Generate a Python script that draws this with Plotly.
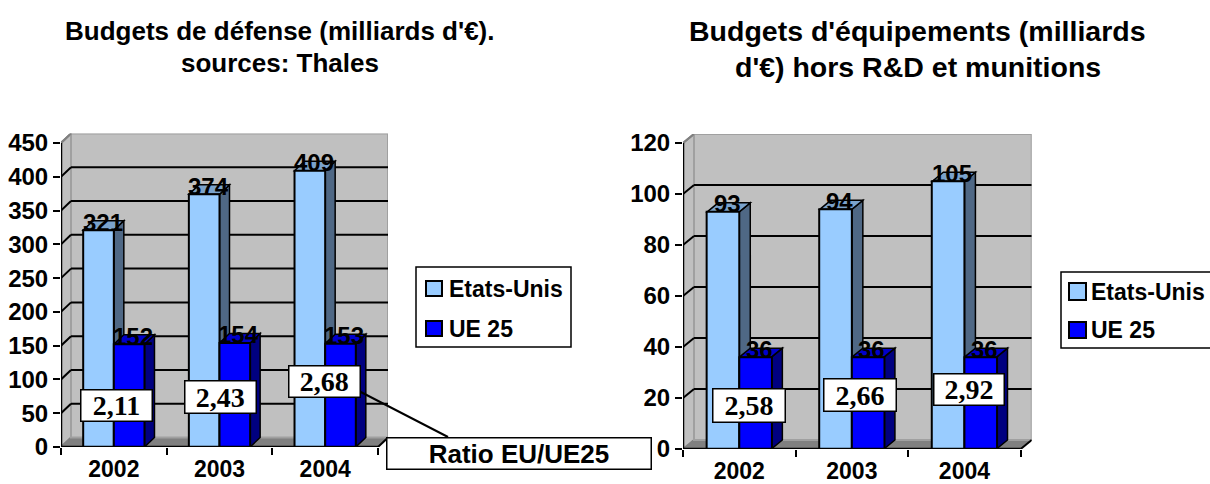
import plotly.graph_objects as go

years = ["2002", "2003", "2004"]
series_names = ["Etats-Unis", "UE 25"]
left_us = [321, 374, 409]
left_ue = [152, 154, 153]
left_ratio = ["2,11", "2,43", "2,68"]
right_us = [93, 94, 105]
right_ue = [36, 36, 36]
right_ratio = ["2,58", "2,66", "2,92"]
left_ticks = [0, 50, 100, 150, 200, 250, 300, 350, 400, 450]
right_ticks = [0, 20, 40, 60, 80, 100, 120]
left_title = ["Budgets de défense (milliards d'€).", "sources: Thales"]
right_title = ["Budgets d'équipements (milliards", "d'€) hors R&D et munitions"]
ratio_label = "Ratio EU/UE25"

W, H = 1210, 484
SANS = "Liberation Sans"
SERIF = "Liberation Serif"
LIGHT, LIGHT_SIDE, LIGHT_TOP = "#99CCFF", "#4F6885", "#7BA3CC"
BLUE, BLUE_SIDE, BLUE_TOP = "#0000FF", "#000080", "#0000CC"
WALL, FLOOR = "#C0C0C0", "#808080"


def px(x):
    return x / W


def py(y):
    return 1 - y / H


fig = go.Figure()
shapes, annotations = [], []


def poly(pts, fill, line="black", width=1.5, xref="x", yref="y", layer="below"):
    d = "M" + "L".join(f"{a},{b}" for a, b in pts) + "Z"
    shapes.append(dict(type="path", path=d, xref=xref, yref=yref, fillcolor=fill,
                       line=dict(color=line, width=width), layer=layer))


def seg(x0, y0, x1, y1, xref, yref, color="black", width=2, layer="below"):
    shapes.append(dict(type="line", x0=x0, y0=y0, x1=x1, y1=y1, xref=xref, yref=yref,
                       line=dict(color=color, width=width), layer=layer))


def panel(sfx, us, ue, ticks, ymax, x_px, y_px, depth_px, gap, lab_size):
    xref, yref = "x" + sfx, "y" + sfx
    x0p, x1p = x_px
    ybot, ytop = y_px
    dxp, dyp = depth_px
    cat_px = (x1p - x0p) / 3
    unit_py = (ybot - ytop) / ymax
    dx, dy = dxp / cat_px, dyp / unit_py
    L, R = -0.5, 2.5
    ax = "xaxis" + sfx
    ay = "yaxis" + sfx
    fig.update_layout(**{
        ax: dict(type="category", categoryorder="array", categoryarray=years, tickson="boundaries",
                 range=[L, R + dx], domain=[px(x0p), px(x1p + dxp)], anchor=yref, automargin=False,
                 showline=False, showgrid=False, zeroline=False, ticks="outside", ticklen=7,
                 tickwidth=2, tickcolor="black", ticklabelstandoff=6,
                 tickfont=dict(family=SANS, size=lab_size - 1, color="black", weight="bold"), fixedrange=True),
        ay: dict(range=[0, ymax + dy], domain=[py(ybot), py(ytop - dyp)], anchor=xref, automargin=False,
                 tickvals=ticks, showline=False, showgrid=False, zeroline=False, ticks="outside",
                 ticklen=7, tickwidth=2, tickcolor="black",
                 tickfont=dict(family=SANS, size=lab_size, color="black", weight="bold"), fixedrange=True),
    })
    # walls and floor
    poly([(L, 0), (L + dx, dy), (L + dx, ymax + dy), (L, ymax)], WALL, FLOOR, 2, xref, yref)
    poly([(L, 0), (L + dx, dy), (R + dx, dy), (R, 0)], FLOOR, FLOOR, 1, xref, yref)
    poly([(L + dx, dy), (L + dx, ymax + dy), (R + dx, ymax + dy), (R + dx, dy)], WALL, "#A0A0A0", 2, xref, yref)
    for t in ticks[1:-1]:
        seg(L, t, L + dx, t + dy, xref, yref)
        seg(L + dx, t + dy, R + dx, t + dy, xref, yref)
    seg(L, ymax, L + dx, ymax + dy, xref, yref, FLOOR)
    seg(R, 0, R + dx, dy, xref, yref)
    # depth faces derived from the values
    bw = (1 - gap) / 2
    for s, (vals, side, top) in enumerate(((us, LIGHT_SIDE, LIGHT_TOP), (ue, BLUE_SIDE, BLUE_TOP))):
        for i, v in enumerate(vals):
            a = i - bw + s * bw
            b = a + bw
            poly([(b, 0), (b + dx, dy), (b + dx, v + dy), (b, v)], side, xref=xref, yref=yref)
            poly([(a, v), (a + dx, v + dy), (b + dx, v + dy), (b, v)], top, xref=xref, yref=yref)
            annotations.append(dict(x=(a + b) / 2, y=v, xref=xref, yref=yref, text=f"<b>{v}</b>",
                                    showarrow=False, xshift=4, yshift=8, yanchor="middle",
                                    font=dict(family=SANS, size=lab_size, color="black")))
    # front faces
    for s, (vals, col) in enumerate(((us, LIGHT), (ue, BLUE))):
        fig.add_trace(go.Bar(x=years, y=vals, name=series_names[s], xaxis=xref, yaxis=yref,
                             marker=dict(color=col, line=dict(color="black", width=2)),
                             hoverinfo="skip", offsetgroup=f"{sfx}{s}", showlegend=False))
    # axis lines
    seg(L, 0, R, 0, xref, yref, layer="above", width=2.5)
    seg(L, 0, L, ymax, xref, yref, layer="above", width=2.5)


panel("", left_us, left_ue, left_ticks, 450, (61, 378), (447, 143), (10, 9.5), 0.42, 24)
panel("2", right_us, right_ue, right_ticks, 120, (683, 1020.7), (449, 143), (11, 9), 0.43, 24)


def box(text, x0, x1, y0, y1, family, size):
    annotations.append(dict(x=px((x0 + x1) / 2), y=py((y0 + y1) / 2), xref="paper", yref="paper",
                            text=text, showarrow=False, width=x1 - x0 - 2, height=y1 - y0 - 2,
                            bgcolor="white", bordercolor="black", borderwidth=1.5, borderpad=0,
                            xanchor="center", yanchor="middle", align="center", valign="middle",
                            font=dict(family=family, size=size, color="black")))


for t, b in zip(left_ratio, [(80, 152, 389, 421), (184.5, 256, 380, 413), (288.5, 360, 365, 397)]):
    box(f"<b>{t}</b>", *b, SERIF, 28)
for t, b in zip(right_ratio, [(712, 785, 388, 422), (824, 897, 378, 411), (933, 1004, 373, 405)]):
    box(f"<b>{t}</b>", *b, SERIF, 28)

seg(px(355), py(389), px(448), py(437), "paper", "paper", layer="above")
box(f"<b>{ratio_label}</b>", 386, 651, 437, 469, SANS, 26)


def title(text, cx, cy, size):
    annotations.append(dict(x=px(cx), y=py(cy), xref="paper", yref="paper", text=f"<b>{text}</b>",
                            showarrow=False, xanchor="center", yanchor="middle",
                            font=dict(family=SANS, size=size, color="black")))


title(left_title[0], 280, 31, 26)
title(left_title[1], 280, 63, 26)
title(right_title[0], 917.5, 31, 28.5)
title(right_title[1], 917.5, 67, 28.5)


def legend_box(box_px, swatches, text_x, size):
    x0, x1, y0, y1 = box_px
    shapes.append(dict(type="rect", xref="paper", yref="paper", x0=px(x0), x1=px(x1), y0=py(y0), y1=py(y1),
                       fillcolor="white", line=dict(color="black", width=1.5), layer="above"))
    for name, col, (sx0, sx1, sy0, sy1) in zip(series_names, (LIGHT, BLUE), swatches):
        shapes.append(dict(type="rect", xref="paper", yref="paper", x0=px(sx0), x1=px(sx1), y0=py(sy0), y1=py(sy1),
                           fillcolor=col, line=dict(color="black", width=2), layer="above"))
        annotations.append(dict(x=px(text_x), y=py((sy0 + sy1) / 2), xref="paper", yref="paper",
                                text=f"<b>{name}</b>", showarrow=False, xanchor="left", yanchor="middle",
                                font=dict(family=SANS, size=size, color="black")))


legend_box((416, 571, 267, 347), [(426, 442, 281, 296), (426, 442, 321, 336)], 447, 23)
legend_box((1061, 1216, 272, 348), [(1069, 1086, 283, 300), (1069, 1086, 322, 338)], 1089, 23)

fig.update_layout(
    template="none",
    width=W, height=H, margin=dict(l=0, r=0, t=0, b=0), paper_bgcolor="white", plot_bgcolor="white",
    barmode="group", bargap=0.42, bargroupgap=0, showlegend=False,
    shapes=shapes, annotations=annotations,
)
fig.write_html("out.html", config=dict(displayModeBar=False),
               post_script="document.body.style.margin='0';document.body.style.overflow='hidden';")
